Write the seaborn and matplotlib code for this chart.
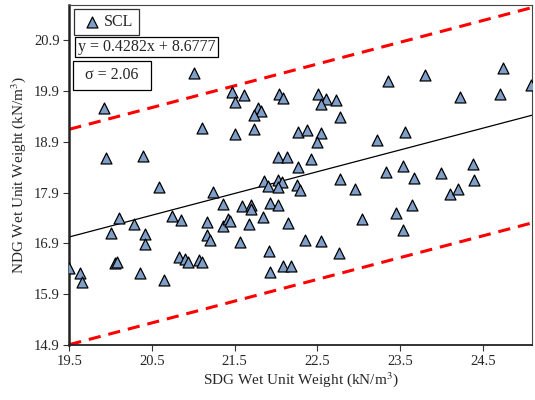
import seaborn as sns
import pandas as pd
import numpy as np
import matplotlib.pyplot as plt
from matplotlib.patches import Rectangle

# SDG vs NDG wet unit weight (kN/m3)
sdg = [21.01, 19.92, 21.10, 19.95, 20.39, 21.47, 21.61, 21.50, 22.04, 22.09,
       22.51, 22.60, 22.54, 22.72, 22.78, 21.78, 21.82, 21.73, 21.50, 21.73,
       22.27, 22.37, 22.55, 22.50, 22.03, 22.13, 22.42, 23.36, 23.80, 24.75,
       24.22, 24.71, 25.09, 23.22, 23.56, 22.27, 23.33, 23.53, 23.99, 24.38,
       23.67, 24.40, 22.25, 22.29, 22.77, 22.95, 24.10, 24.20, 20.58, 21.24,
       20.10, 20.28, 20.00, 20.41, 20.41, 20.74, 20.85, 21.16, 21.16, 21.20,
       20.05, 20.08, 20.83, 20.90, 20.93, 21.07, 21.10, 19.50, 19.63, 19.65,
       20.35, 20.64, 21.36, 21.36, 21.42, 21.44, 21.56, 21.59, 21.70, 21.70,
       21.67, 21.84, 21.86, 21.90, 21.93, 22.03, 22.07, 22.02, 22.02, 22.14,
       21.92, 21.93, 22.08, 22.18, 23.04, 22.35, 22.54, 22.76, 23.45, 23.64,
       23.54]
ndg = [20.25, 19.56, 19.18, 18.59, 18.62, 19.89, 19.83, 19.69, 19.85, 19.76,
       19.85, 19.74, 19.64, 19.73, 19.38, 19.56, 19.51, 19.43, 19.05, 19.15,
       19.10, 19.13, 19.07, 18.90, 18.61, 18.60, 18.56, 20.10, 20.21, 20.36,
       19.79, 19.84, 20.02, 18.94, 19.10, 18.40, 18.31, 18.42, 18.29, 18.46,
       18.18, 18.15, 18.05, 17.96, 18.16, 17.98, 17.87, 17.98, 18.02, 17.91,
       17.41, 17.28, 17.10, 17.09, 16.88, 17.44, 17.36, 17.32, 17.06, 16.97,
       16.52, 16.53, 16.63, 16.60, 16.53, 16.58, 16.53, 16.42, 16.32, 16.14,
       16.32, 16.18, 17.67, 17.24, 17.39, 17.34, 16.93, 17.63, 17.66, 17.57,
       17.28, 17.42, 18.12, 18.04, 17.70, 18.14, 18.11, 18.02, 17.65, 17.30,
       16.75, 16.34, 16.46, 16.46, 17.39, 16.96, 16.95, 16.72, 17.50, 17.66,
       17.16]

slope, intercept = 0.4282, 8.6777
sigma = 2.06
band = 2.12  # offset of the dashed bounds as drawn

xticks = [19.5, 20.5, 21.5, 22.5, 23.5, 24.5]
yticks = [14.9, 15.9, 16.9, 17.9, 18.9, 19.9, 20.9]

df = pd.DataFrame({"SDG": sdg, "NDG": ndg})

sns.set_style("ticks")
plt.rcParams["font.family"] = ["Liberation Serif", "DejaVu Serif"]
plt.rcParams["mathtext.fontset"] = "stix"

fig = plt.figure(figsize=(5.35, 4.0), dpi=100)
ax = fig.add_axes([0.1295, 0.1375, 0.8655, 0.8507])

xlim = (19.5, 25.1)
ylim = (14.9, 21.6)
xs = np.array(xlim)
fit = slope * xs + intercept

ax.plot(xs, fit, color="black", lw=0.9, zorder=2)
ax.plot(xs, fit + band, color="#ff0000", lw=2.2, ls=(0, (4, 2.6)), zorder=2)
ax.plot(xs, fit - band, color="#ff0000", lw=2.2, ls=(0, (4, 2.6)), zorder=2)

sns.scatterplot(data=df, x="SDG", y="NDG", marker="^", s=62,
                color="#7f9ec8", edgecolor="black", linewidth=0.9,
                label="SCL", ax=ax, zorder=3)

ax.set_xlim(*xlim)
ax.set_ylim(*ylim)
ax.set_xticks(xticks)
ax.set_yticks(yticks)
ax.set_xticklabels([f"{t:.1f}" for t in xticks])
ax.set_yticklabels([f"{t:.1f}" for t in yticks])
ax.tick_params(axis="both", direction="out", length=4, width=0.8,
               labelsize=10.5, pad=3, color="#333333")

ax.set_xlabel("SDG Wet Unit Weight (kN/m$^3$)", fontsize=11, labelpad=2)
ax.set_ylabel("NDG Wet Unit Weight (kN/m$^3$)", fontsize=11, labelpad=4)

for side in ["top", "right"]:
    ax.spines[side].set_linewidth(0.8)
    ax.spines[side].set_color("#444444")
ax.spines["left"].set_linewidth(1.8)
ax.spines["bottom"].set_linewidth(1.3)
ax.spines["left"].set_color("#222222")
ax.spines["bottom"].set_color("#222222")

leg = ax.legend(loc="upper left", bbox_to_anchor=(0.0102, 0.9865), fontsize=11.5,
                frameon=True, fancybox=False, edgecolor="black",
                handletextpad=0.0, borderpad=0.3, handlelength=1.6,
                borderaxespad=0.0)
leg.get_frame().set_linewidth(0.9)

# equation box and sigma box
eq_box = (0.0123, 0.8454, 0.3218 - 0.0123, 0.906 - 0.8454)
sg_box = (0.0086, 0.7502, 0.1765 - 0.0086, 0.8354 - 0.7502)
for bx, txt in [(eq_box, f"y = {slope}x + {intercept}"),
                (sg_box, f"σ = {sigma:.2f}")]:
    ax.add_patch(Rectangle(bx[:2], bx[2], bx[3], transform=ax.transAxes,
                           fc="white", ec="black", lw=0.9, zorder=5))
    ax.text(bx[0] + bx[2] / 2, bx[1] + bx[3] / 2, txt, transform=ax.transAxes,
            fontsize=11.5, va="center", ha="center", zorder=6)

plt.savefig("out.png", dpi=100)
